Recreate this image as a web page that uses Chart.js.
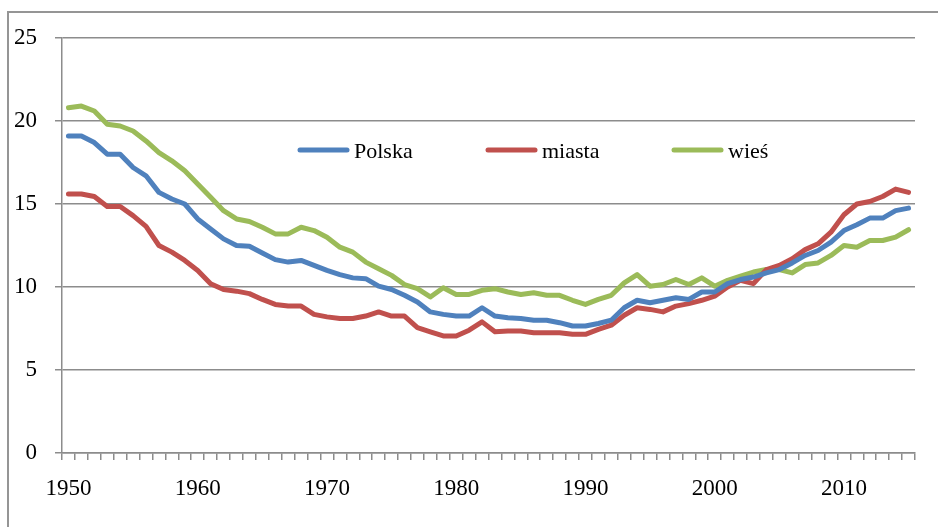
<!DOCTYPE html>
<html>
<head>
<meta charset="utf-8">
<script src="https://cdn.jsdelivr.net/npm/chart.js@4/dist/chart.umd.min.js"></script>
<style>
  body { margin: 0; background: #fff; }
  #wrap { position: relative; width: 938px; height: 527px; overflow: hidden; }
  #frame { position: absolute; left: 7px; top: 11px; width: 960px; height: 560px; border: 2px solid #959595; box-sizing: border-box; }
  canvas { position: absolute; left: 0; top: 0; }
</style>
</head>
<body>
<div id="wrap">
  <div id="frame"></div>
  <canvas id="lineChart" width="938" height="527"></canvas>
</div>
<script>
var years = [];
for (var y = 1950; y <= 2015; y++) years.push(y);

var seriesNames = ["Polska", "miasta", "wieś"];

var polska = [19.1, 19.1, 18.7, 18.0, 18.0, 17.2, 16.7, 15.7, 15.3, 15.0,
  14.1, 13.5, 12.9, 12.5, 12.45, 12.05, 11.65, 11.5, 11.6, 11.3,
  11.0, 10.75, 10.55, 10.5, 10.05, 9.85, 9.5, 9.1, 8.5, 8.35,
  8.25, 8.25, 8.75, 8.25, 8.15, 8.1, 8.0, 8.0, 7.85, 7.65,
  7.65, 7.8, 8.0, 8.75, 9.2, 9.05, 9.2, 9.35, 9.25, 9.7,
  9.7, 10.2, 10.45, 10.6, 10.85, 11.05, 11.45, 11.9, 12.2, 12.7,
  13.4, 13.75, 14.15, 14.15, 14.6, 14.75];

var miasta = [15.6, 15.6, 15.45, 14.85, 14.85, 14.3, 13.65, 12.5, 12.1, 11.6,
  11.0, 10.2, 9.85, 9.75, 9.6, 9.25, 8.95, 8.85, 8.85, 8.35,
  8.2, 8.1, 8.1, 8.25, 8.5, 8.25, 8.25, 7.55, 7.3, 7.05,
  7.05, 7.4, 7.9, 7.3, 7.35, 7.35, 7.25, 7.25, 7.25, 7.15,
  7.15, 7.45, 7.7, 8.3, 8.75, 8.65, 8.5, 8.85, 9.0, 9.2,
  9.45, 10.0, 10.4, 10.2, 11.05, 11.3, 11.7, 12.25, 12.6, 13.3,
  14.35, 15.0, 15.15, 15.45, 15.9, 15.7];

var wies = [20.8, 20.9, 20.6, 19.8, 19.7, 19.4, 18.8, 18.1, 17.6, 17.0,
  16.2, 15.4, 14.6, 14.1, 13.95, 13.6, 13.2, 13.2, 13.6, 13.4,
  13.0, 12.4, 12.1, 11.5, 11.1, 10.7, 10.15, 9.9, 9.4, 9.95,
  9.55, 9.55, 9.8, 9.9, 9.7, 9.55, 9.65, 9.5, 9.5, 9.2,
  8.95, 9.25, 9.5, 10.25, 10.75, 10.05, 10.15, 10.45, 10.15, 10.55,
  10.05, 10.4, 10.65, 10.9, 11.05, 11.05, 10.85, 11.35, 11.45, 11.9,
  12.5, 12.4, 12.8, 12.8, 13.0, 13.45];

var colors = ["#4F81BD", "#C0504D", "#9BBB59"];
var axisGray = "#8c8c8c";
var serif = { family: "'Liberation Serif', 'DejaVu Serif', serif", size: 23 };

// legend drawn inside the plot, like the original
var insideLegend = {
  id: "insideLegend",
  afterDraw: function (chart) {
    var ctx = chart.ctx;
    var starts = [298, 486, 672];
    var ly = 150;
    chart.data.datasets.forEach(function (ds, i) {
      ctx.save();
      ctx.strokeStyle = ds.borderColor;
      ctx.lineWidth = 5;
      ctx.lineCap = "round";
      ctx.beginPath();
      ctx.moveTo(starts[i] + 2, ly);
      ctx.lineTo(starts[i] + 49, ly);
      ctx.stroke();
      ctx.fillStyle = "#000";
      ctx.font = "22px 'Liberation Serif', serif";
      ctx.textBaseline = "alphabetic";
      ctx.fillText(ds.label, starts[i] + 56, ly + 8);
      ctx.restore();
    });
  }
};

var ctxL = document.getElementById("lineChart").getContext("2d");
var myLineChart = new Chart(ctxL, {
  type: "line",
  data: {
    labels: years,
    datasets: [
      { label: seriesNames[0], data: polska, borderColor: colors[0] },
      { label: seriesNames[1], data: miasta, borderColor: colors[1] },
      { label: seriesNames[2], data: wies, borderColor: colors[2] }
    ]
  },
  options: {
    responsive: false,
    animation: false,
    layout: { padding: { left: 0, top: 38, right: 23, bottom: 0 } },
    elements: {
      point: { radius: 0 },
      line: { borderWidth: 5, tension: 0, borderJoinStyle: "round", borderCapStyle: "round", fill: false }
    },
    plugins: {
      legend: { display: false },
      tooltip: { enabled: false }
    },
    scales: {
      x: {
        type: "category",
        offset: true,
        afterFit: function (scale) { scale.height = 74; },
        grid: { offset: true, drawOnChartArea: false, drawTicks: true, tickLength: 7, color: axisGray, lineWidth: 1.5 },
        border: { color: axisGray, width: 1.5 },
        ticks: {
          autoSkip: false, maxRotation: 0, minRotation: 0, padding: 15,
          color: "#000", font: serif,
          callback: function (v, i) { return years[i] % 10 === 0 ? String(years[i]) : ""; }
        }
      },
      y: {
        min: 0, max: 25,
        afterFit: function (scale) { scale.width = 62; },
        grid: { color: axisGray, lineWidth: 1.5, tickLength: 7 },
        border: { color: axisGray, width: 1.5 },
        ticks: { stepSize: 5, padding: 18, color: "#000", font: serif }
      }
    }
  },
  plugins: [insideLegend]
});
</script>
</body>
</html>
